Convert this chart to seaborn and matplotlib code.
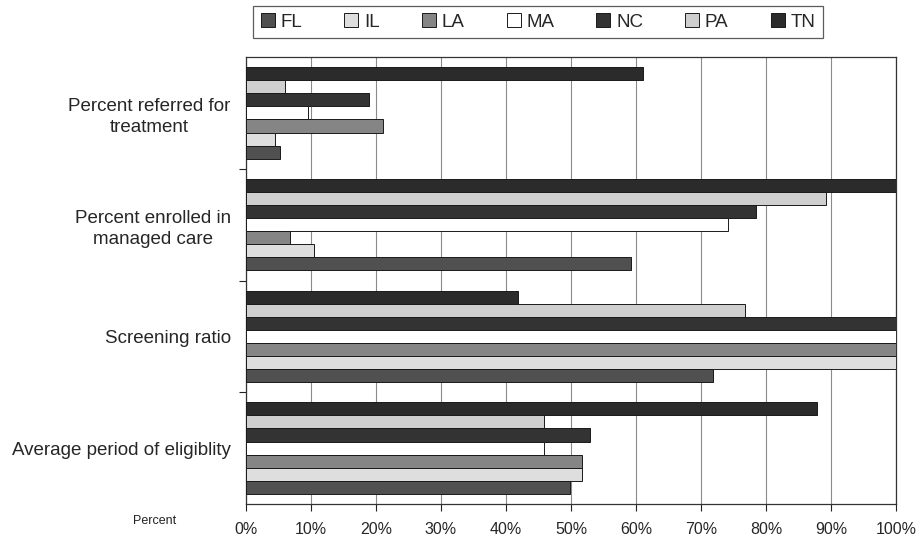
import matplotlib
matplotlib.use("Agg")
import matplotlib.pyplot as plt
from matplotlib.patches import Patch
from matplotlib.ticker import FixedLocator, FuncFormatter
import seaborn as sns
import pandas as pd

# Measures (top to bottom) and states
measures = [
    "Percent referred for\ntreatment",
    "Percent enrolled in\nmanaged care",
    "Screening ratio",
    "Average period of eligiblity",
]
states = ["FL", "IL", "LA", "MA", "NC", "PA", "TN"]

# Percent values per state, in the order of `measures`
fl = [5.3, 59.3, 71.9, 49.8]
il = [4.4, 10.5, 100.0, 51.7]
la = [21.1, 6.8, 100.0, 51.7]
ma = [9.6, 74.2, 100.0, 45.9]
nc = [18.9, 78.5, 100.0, 52.9]
pa = [6.0, 89.3, 76.8, 45.9]
tn = [61.1, 100.0, 41.9, 87.9]

x_ticks = [0, 10, 20, 30, 40, 50, 60, 70, 80, 90, 100]

series = {"FL": fl, "IL": il, "LA": la, "MA": ma, "NC": nc, "PA": pa, "TN": tn}
colors = {
    "FL": "#505050",
    "IL": "#dedede",
    "LA": "#858585",
    "MA": "#ffffff",
    "NC": "#333333",
    "PA": "#cfcfcf",
    "TN": "#2b2b2b",
}

rows = []
for st in states:
    for m, v in zip(measures, series[st]):
        rows.append({"measure": m, "state": st, "value": v})
df = pd.DataFrame(rows)

sns.set_theme(style="white")
plt.rcParams["font.family"] = ["Liberation Sans", "DejaVu Sans"]

fig = plt.figure(figsize=(9.19, 5.38), dpi=100)
ax = fig.add_axes([246 / 919, 1 - 504 / 538, 650 / 919, 447 / 538])

# Within each group the last state sits on top
draw_order = states[::-1]
sns.barplot(
    data=df, y="measure", x="value", hue="state",
    order=measures, hue_order=draw_order,
    palette=colors, orient="h", width=0.82,
    edgecolor="#1a1a1a", linewidth=0.7,
    errorbar=None, legend=False, ax=ax, zorder=3,
)

ax.set_xlim(0, 100)
ax.set_ylim(3.5, -0.5)
ax.set_xlabel("")
ax.set_ylabel("")

ax.xaxis.set_major_locator(FixedLocator(x_ticks))
ax.xaxis.set_major_formatter(FuncFormatter(lambda v, p: f"{int(round(v))}%"))
ax.tick_params(axis="x", which="major", direction="out", length=5, width=0.8,
               color="#222222", labelsize=11.5, pad=8, bottom=True)
ax.grid(axis="x", color="#8a8a8a", linewidth=0.8, zorder=0)
ax.grid(axis="y", visible=False)

# Category labels centred on the groups, ticks on the group boundaries
ax.tick_params(axis="y", which="major", length=0, labelsize=13.5, pad=11)
for lab in ax.get_yticklabels():
    lab.set_multialignment("center")
    lab.set_linespacing(1.35)
ax.yaxis.set_minor_locator(FixedLocator([0.5, 1.5, 2.5]))
ax.tick_params(axis="y", which="minor", direction="out", length=5, width=0.8,
               color="#222222", left=True)

for sp in ax.spines.values():
    sp.set_visible(True)
    sp.set_color("#333333")
    sp.set_linewidth(0.9)

fig.text(155 / 919, 1 - 521 / 538, "Percent", fontsize=9, ha="center", va="center",
         color="#222222")

handles = [Patch(facecolor=colors[s], edgecolor="#1a1a1a", linewidth=0.7, label=s)
           for s in states]
leg = fig.legend(
    handles=handles, loc="center", bbox_to_anchor=(538 / 919, 1 - 22 / 538),
    ncol=7, frameon=True, fancybox=False, edgecolor="#333333",
    fontsize=13.5, handlelength=0.75, handleheight=0.75, handletextpad=0.3,
    columnspacing=2.25, borderpad=0.4, borderaxespad=0,
)
leg.get_frame().set_linewidth(0.9)

fig.savefig("out.png", dpi=100, facecolor="white")
